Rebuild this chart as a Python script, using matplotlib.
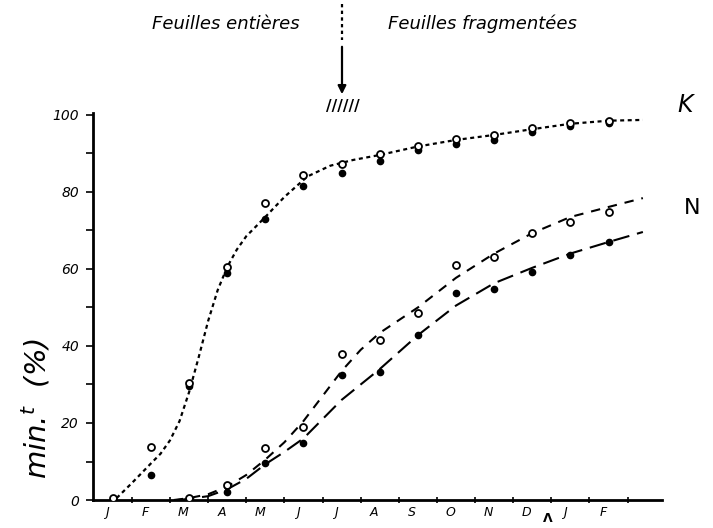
import matplotlib
matplotlib.use("Agg")
import matplotlib.pyplot as plt

# mois (janvier -> fevrier de l'annee suivante)
mois = ["J", "F", "M", "A", "M", "J", "J", "A", "S", "O", "N", "D", "J", "F"]

# K : points mesures (o = ouvert, . = plein)
k_idx_o = [0, 1, 2, 3, 4, 5, 6, 7, 8, 9, 10, 11, 12, 13]
k_val_o = [0.5, 13.8, 30.5, 60.5, 77, 84.5, 87.3, 89.8, 92, 93.8, 94.7, 96.7, 98, 98.5]
k_idx_f = [1, 2, 3, 4, 5, 6, 7, 8, 9, 10, 11, 12, 13]
k_val_f = [6.5, 29.5, 59, 73, 81.5, 85, 88, 91, 92.5, 93.5, 95.5, 97, 98]

# K : courbe tracee a la main
k_cx = [0.1, 0.5, 1.0, 1.25, 1.5, 1.75, 2.0, 2.25, 2.5, 2.75, 3.0, 3.25, 3.5, 3.95, 4.5, 5.1, 5.7, 6.3,
        7, 8, 9, 10, 11, 12, 13, 13.9]
k_cy = [0.5, 4.4, 9.5, 12, 15.5, 20.5, 28, 37, 46.5, 54.5, 60.5, 65, 68.5, 73, 78.7, 84, 86.8, 88.3,
        89.6, 91.8, 93.5, 94.8, 96.3, 97.7, 98.5, 98.7]

# N : points mesures
n_idx_o = [2, 3, 4, 5, 6, 7, 8, 9, 10, 11, 12, 13]
n_val_o = [0.5, 3.8, 13.5, 19, 38, 41.5, 48.5, 61, 63, 69.3, 72.2, 74.8]
n_idx_f = [2, 3, 4, 5, 6, 7, 8, 9, 10, 11, 12, 13]
n_val_f = [0, 2, 9.6, 14.8, 32.4, 33.2, 42.8, 53.7, 54.8, 59.2, 63.6, 67]

# N : courbes
n1_cx = [1.6, 2, 2.5, 3, 3.5, 4, 4.5, 5, 5.5, 6, 6.5, 7, 8, 9, 10, 11, 12, 13, 13.9]
n1_cy = [0, 0.5, 1.5, 3.5, 6.5, 10.5, 15, 20.5, 27, 33.5, 39, 43.4, 50, 57.7, 64, 69.3, 73.5, 76.1, 78.4]
n2_cx = [1.7, 2, 2.5, 3, 3.5, 4, 4.5, 5, 5.5, 6, 6.5, 7, 8, 9, 10, 11, 12, 13, 13.9]
n2_cy = [0, 0.3, 1, 2.8, 5.5, 9.3, 12.5, 16, 21, 26, 30, 34, 42.8, 50.5, 56.3, 60.3, 64, 67, 69.6]

plt.rcParams['font.family'] = ['DejaVu Sans']

fig = plt.figure(figsize=(7.13, 5.28), dpi=100)
ax = fig.add_axes([0.1304, 0.053, 0.798, 0.733])

ax.plot(k_cx, k_cy, color="black", lw=1.6, dashes=(1.8, 1.6))
ax.plot(n1_cx, n1_cy, color="black", lw=1.5, dashes=(4.5, 3.8))
ax.plot(n2_cx, n2_cy, color="black", lw=1.5, dashes=(8, 3.8))

ax.plot(k_idx_f, k_val_f, "o", color="black", ms=4.5, zorder=3)
ax.plot(k_idx_o, k_val_o, "o", mfc="white", mec="black", mew=1.3, ms=5, zorder=4)
ax.plot(n_idx_f, n_val_f, "o", color="black", ms=4.5, zorder=3)
ax.plot(n_idx_o, n_val_o, "o", mfc="white", mec="black", mew=1.3, ms=5, zorder=4)

ax.set_xlim(-0.52, 14.4)
ax.set_ylim(0, 100.5)
for s in ["top", "right"]:
    ax.spines[s].set_visible(False)
ax.spines["left"].set_linewidth(2)
ax.spines["bottom"].set_linewidth(2)

ax.set_xticks([i - 0.15 for i in range(len(mois))])
ax.set_xticklabels(mois, style="italic", fontsize=9)
ax.set_xticks([i + 0.5 for i in range(14)], minor=True)
ax.tick_params(axis="x", which="major", length=0, pad=4)
ax.tick_params(axis="x", which="minor", length=4, width=1.2, direction="inout")

ax.set_yticks([0, 20, 40, 60, 80, 100])
ax.set_yticklabels(["0", "20", "40", "60", "80", "100"], style="italic", fontsize=10)
ax.set_yticks([10, 30, 50, 70, 90], minor=True)
ax.tick_params(axis="y", which="both", length=5, width=1.2, direction="out", pad=5)

# etiquettes des courbes
ax.text(15.0, 102.5, "K", fontsize=17, style="italic", ha="center", va="center", clip_on=False)
ax.text(15.2, 75.8, "N", fontsize=16, ha="center", va="center", clip_on=False)

# en-tete : feuilles entieres / fragmentees
W, H = 713.0, 528.0
fig.text(226 / W, 1 - 24 / H, "Feuilles entières", fontsize=13, style="italic", ha="center", va="center")
fig.text(482 / W, 1 - 24 / H, "Feuilles fragmentées", fontsize=13, style="italic", ha="center", va="center")
fig.add_artist(plt.Line2D([342 / W, 342 / W], [1 - 4 / H, 1 - 40 / H], color="black", lw=1.6, dashes=(1.5, 1.5)))
fig.add_artist(matplotlib.patches.FancyArrowPatch((342 / W, 1 - 44 / H), (342 / W, 1 - 97 / H),
                                                  transform=fig.transFigure, arrowstyle="-|>",
                                                  mutation_scale=12, color="black", lw=1.6))
fig.text(343 / W, 1 - 107 / H, "//////", fontsize=11, weight="bold", ha="center", va="center")
fig.text(548 / W, 1 - 519 / H, "Λ", fontsize=9, weight="bold", ha="center", va="center")

fig.text(36 / W, 1 - 408 / H, "min.$^t$  (%)", fontsize=21, style="italic", rotation=90,
         ha="center", va="center")

fig.savefig("out.png", dpi=100)
